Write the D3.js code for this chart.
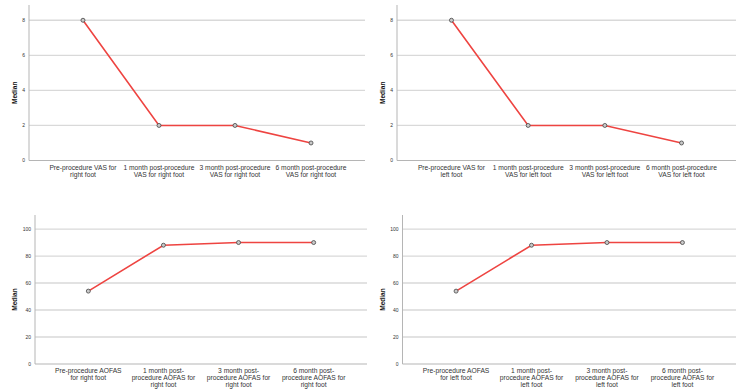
<!DOCTYPE html>
<html>
<head>
<meta charset="utf-8">
<script src="https://cdn.jsdelivr.net/npm/d3@7"></script>
<style>
  body { margin: 0; background: #fff; }
  svg { font-family: "Liberation Sans", Arial, sans-serif; }
</style>
</head>
<body>
<svg id="chart" width="750" height="390"></svg>
<script>
// data
var vasRightLabels = ["Pre-procedure VAS for\nright foot", "1 month post-procedure\nVAS for right foot",
                      "3 month post-procedure\nVAS for right foot", "6 month post-procedure\nVAS for right foot"];
var vasLeftLabels = ["Pre-procedure VAS for\nleft foot", "1 month post-procedure\nVAS for left foot",
                     "3 month post-procedure\nVAS for left foot", "6 month post-procedure\nVAS for left foot"];
var aofasRightLabels = ["Pre-procedure AOFAS\nfor right foot", "1 month post-\nprocedure AOFAS for\nright foot",
                        "3 month post-\nprocedure AOFAS for\nright foot", "6 month post-\nprocedure AOFAS for\nright foot"];
var aofasLeftLabels = ["Pre-procedure AOFAS\nfor left foot", "1 month post-\nprocedure AOFAS for\nleft foot",
                       "3 month post-\nprocedure AOFAS for\nleft foot", "6 month post-\nprocedure AOFAS for\nleft foot"];

var vasRight = [8, 2, 2, 1];
var vasLeft = [8, 2, 2, 1];
var aofasRight = [54, 88, 90, 90];
var aofasLeft = [54, 88, 90, 90];

var vasTicks = [0, 2, 4, 6, 8];
var aofasTicks = [0, 20, 40, 60, 80, 100];

var svg = d3.select("#chart");

function drawPanel(p) {
  var g = svg.append("g");

  var x = d3.scalePoint()
    .domain(p.labels)
    .range([p.left, p.right])
    .padding(0.71);

  var y = d3.scaleLinear()
    .domain([0, p.yMax])
    .range([p.bottom, p.top]);

  // gridlines
  g.selectAll(".grid")
    .data(p.ticks.filter(function(d) { return d > 0; }))
    .enter().append("line")
    .attr("x1", p.left).attr("x2", p.right)
    .attr("y1", function(d) { return y(d); })
    .attr("y2", function(d) { return y(d); })
    .attr("stroke", "#d9d9d9")
    .attr("stroke-width", 1.3);

  // axes lines
  g.append("line")
    .attr("x1", p.left).attr("x2", p.left)
    .attr("y1", p.top).attr("y2", p.bottom)
    .attr("stroke", "#b5b5b5");
  g.append("line")
    .attr("x1", p.left).attr("x2", p.right)
    .attr("y1", p.bottom).attr("y2", p.bottom)
    .attr("stroke", "#b5b5b5");

  // y tick labels
  g.selectAll(".ytick")
    .data(p.ticks)
    .enter().append("text")
    .attr("x", p.left - 4)
    .attr("y", function(d) { return y(d); })
    .attr("dy", "0.35em")
    .attr("text-anchor", "end")
    .attr("font-size", 5)
    .attr("fill", "#333")
    .text(function(d) { return d; });

  // y title
  g.append("text")
    .attr("transform", "translate(" + p.titleX + "," + ((p.top + p.bottom) / 2 + 10) + ") rotate(-90)")
    .attr("text-anchor", "middle")
    .attr("font-size", 6.5)
    .attr("font-weight", "bold")
    .attr("fill", "#111")
    .text("Median");

  // x category labels
  g.selectAll(".xlab")
    .data(p.labels)
    .enter().append("text")
    .attr("x", function(d) { return x(d); })
    .attr("y", p.bottom + 9)
    .attr("text-anchor", "middle")
    .attr("font-size", 6.7)
    .attr("fill", "#333")
    .each(function(d) {
      var t = d3.select(this);
      d.split("\n").forEach(function(line, i) {
        t.append("tspan")
          .attr("x", x(d))
          .attr("dy", i === 0 ? 0 : 7)
          .text(line);
      });
    });

  var pts = p.labels.map(function(d, i) { return [d, p.values[i]]; });

  g.append("path")
    .datum(pts)
    .attr("fill", "none")
    .attr("stroke", "#ee4441")
    .attr("stroke-width", 1.6)
    .attr("d", d3.line()
      .x(function(d) { return x(d[0]); })
      .y(function(d) { return y(d[1]); }));

  g.selectAll(".pt")
    .data(pts)
    .enter().append("circle")
    .attr("cx", function(d) { return x(d[0]); })
    .attr("cy", function(d) { return y(d[1]); })
    .attr("r", 2)
    .attr("fill", "#c9c9c9")
    .attr("stroke", "#444")
    .attr("stroke-width", 0.8);
}

drawPanel({ labels: vasRightLabels, values: vasRight, ticks: vasTicks, yMax: 8.87,
            left: 29, right: 365, top: 5, bottom: 160.5, titleX: 17 });
drawPanel({ labels: vasLeftLabels, values: vasLeft, ticks: vasTicks, yMax: 8.87,
            left: 397, right: 736, top: 5, bottom: 160.5, titleX: 385 });
drawPanel({ labels: aofasRightLabels, values: aofasRight, ticks: aofasTicks, yMax: 110.4,
            left: 35, right: 367, top: 215, bottom: 364, titleX: 17 });
drawPanel({ labels: aofasLeftLabels, values: aofasLeft, ticks: aofasTicks, yMax: 110.4,
            left: 402.5, right: 736, top: 215, bottom: 364, titleX: 385 });
</script>
</body>
</html>
